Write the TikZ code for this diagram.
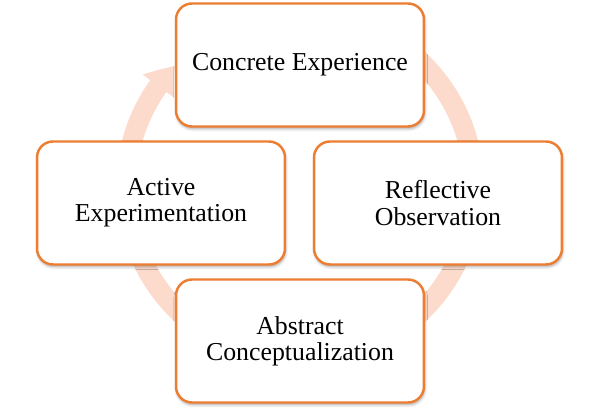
\documentclass[tikz,border=0pt]{standalone}
\usepackage{fontspec}
\setmainfont{Liberation Serif}
\usepackage{tikz}
\usetikzlibrary{positioning}
\usetikzlibrary{arrows.meta,bending}
\usetikzlibrary{shadows.blur}
\usepackage{xcolor}
\definecolor{boxorange}{RGB}{237,125,49}
\definecolor{ringpeach}{RGB}{252,219,204}
\tikzset{
	stage/.style={
		rectangle,
		align=center,
		draw=boxorange,
		line width=1.4pt,
		fill=white,
		minimum width=4.96cm,
		minimum height=2.46cm,
		rounded corners=.32cm,
		font=\fontsize{14.7}{15}\selectfont,
		blur shadow={shadow xshift=0.4pt, shadow yshift=-1.3pt, shadow blur radius=1.6pt, shadow opacity=35}
	},
	ring/.style={
		draw=ringpeach,
		line width=.4cm,
		-{Triangle[width=.74cm,length=.52cm,bend]}
	}
}

\begin{document}
\begin{tikzpicture}[x=0.02cm,y=-0.02cm]
	\useasboundingbox (0,0) rectangle (600,411);
	\coordinate (Hub) at (300,187);
	
	% circular arrow behind the boxes
	\draw [ring] ([shift={(97:3.48cm)}]Hub) arc[start angle=97, end angle=-224, radius=3.48cm];
	
	\draw node[stage] (Concrete) at (300,65) {Concrete Experience};
	\draw node[stage] (Reflective) at (438,203) {Reflective\\ Observation};
	\draw node[stage] (Abstract) at (300,341) {Abstract\\ Conceptualization};
	\draw node[stage] (Active) at (161,203) {Active\\ Experimentation};
\end{tikzpicture}
\end{document}
